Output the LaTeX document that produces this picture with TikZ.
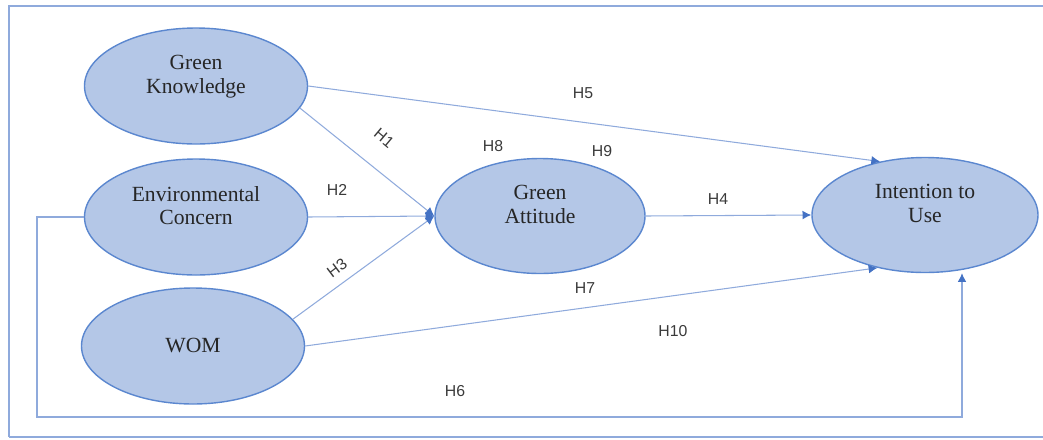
\documentclass[tikz,border=0pt]{standalone}
\usepackage{fontspec}
\setmainfont{Liberation Serif}
\newfontfamily\hfont{Liberation Sans}
\usepackage{xcolor}
\usetikzlibrary{arrows.meta,shapes.geometric}
\definecolor{ovalfill}{HTML}{B4C7E7}
\definecolor{ovalline}{HTML}{5B87CF}
\definecolor{linkblue}{HTML}{8FAADC}
\definecolor{tipblue}{HTML}{4472C4}
\definecolor{labgray}{HTML}{3A3A3A}

\begin{document}
\begin{tikzpicture}[x=0.2mm,y=-0.2mm,
 construct/.style={ellipse,draw=ovalline,line width=0.8pt,fill=ovalfill,minimum width=4.46cm,
  minimum height=2.32cm,inner sep=0pt,align=center,text=black!85,font=\fontsize{12.3}{13.2}\selectfont},
 link/.style={draw=linkblue,line width=0.6pt,-{Latex[length=5pt,width=5pt,color=tipblue]}},
 hyp/.style={font=\hfont\fontsize{9}{10}\selectfont,text=labgray,inner sep=1pt}]
 \useasboundingbox (0,0) rectangle (1043,439);
 \draw[linkblue,line width=1.5pt] (1043,6) -- (9,6) -- (9,437);
 \draw[linkblue,line width=0.8pt] (9,437) -- (1043,437);
 \node[construct] (GK) at (196,86) {Green\\Knowledge\\\mbox{}};
 \node[construct] (EC) at (196,217) {Environmental\\Concern\\\mbox{}};
 \node[construct] (WOM) at (193,346) {WOM};
 \node[construct,minimum width=4.2cm,minimum height=2.3cm] (GA) at (540,216) {Green\\Attitude\\\mbox{}};
 \node[construct,minimum width=4.52cm,minimum height=2.3cm] (IU) at (925,215) {Intention to\\Use\\\mbox{}};
 \coordinate (loopsw) at (37,417);
 \coordinate (loopse) at (962,417);
 \draw[link] (GK.-12) -- (GA.west);
 \draw[link] (EC.east) -- (GA.west);
 \draw[link] (WOM.15) -- (GA.west);
 \draw[link] (GA.east) -- (IU.west);
 \draw[link] (GK.east) -- (IU.130);
 \draw[link] (WOM.east) -- (IU.228);
 \draw[link] (EC.west) -| (loopsw) -- (loopse) -- (loopse |- IU.south);
 \node[hyp,rotate=-40] (h1) at (384,138) {H1};
 \node[hyp] (h2) at (337,190) {H2};
 \node[hyp,rotate=37] (h3) at (337,268) {H3};
 \node[hyp] (h4) at (718,199) {H4};
 \node[hyp] (h5) at (583,93) {H5};
 \node[hyp] (h6) at (455,391) {H6};
 \node[hyp] (h7) at (585,288) {H7};
 \node[hyp] (h8) at (493,146) {H8};
 \node[hyp] (h9) at (602,151) {H9};
 \node[hyp] (h10) at (673,331) {H10};
\end{tikzpicture}
\end{document}
